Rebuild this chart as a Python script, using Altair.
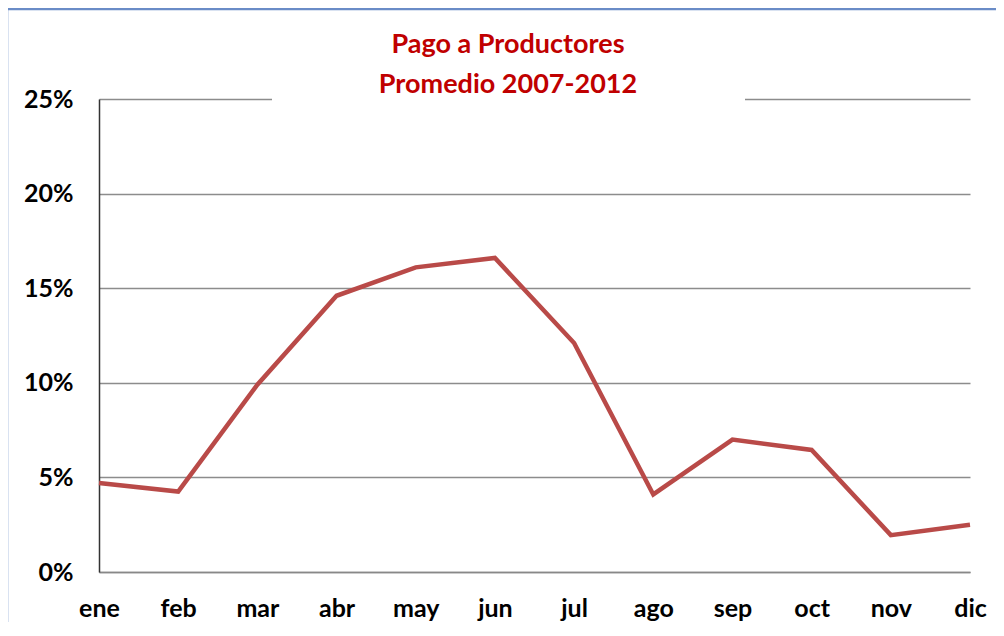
import altair as alt
import pandas as pd

months = ["ene", "feb", "mar", "abr", "may", "jun", "jul", "ago", "sep", "oct", "nov", "dic"]
values = [0.047, 0.0425, 0.099, 0.146, 0.161, 0.166, 0.121, 0.041, 0.070, 0.0645, 0.0195, 0.025]
y_ticks = [0, 0.05, 0.10, 0.15, 0.20, 0.25]
title_lines = ["Pago a Productores", "Promedio 2007-2012"]

df = pd.DataFrame({"mes": months, "valor": values})

W, H = 871, 473
FONT = "Lato"

line = alt.Chart(df).mark_line(color="#b94a48", strokeWidth=4.5, strokeJoin="miter").encode(
    x=alt.X("mes:N", sort=months,
            scale=alt.Scale(type="point", padding=0),
            axis=alt.Axis(title=None, labelAngle=0, labelFont=FONT, labelFontSize=25,
                          labelFontWeight="bold", labelColor="#000000", labelPadding=24,
                          ticks=False, domain=True, domainColor="#888888", domainWidth=1.5,
                          grid=False, labelBaseline="top")),
    y=alt.Y("valor:Q", scale=alt.Scale(domain=[0, 0.25], nice=False),
            axis=alt.Axis(title=None, values=y_ticks, format=".0%", labelFont=FONT,
                          labelFontSize=25, labelFontWeight="bold", labelColor="#000000",
                          labelPadding=26, ticks=False, domain=True, domainColor="#333333",
                          domainWidth=1.5, grid=True, gridColor="#8c8c8c", gridWidth=1.3)),
)

frame = alt.Chart(pd.DataFrame({"k": [0]})).mark_rect(
    fill=None, stroke="#6a8cc7", strokeWidth=2.5, clip=False
).encode(x=alt.value(-92), x2=alt.value(W + 60), y=alt.value(-90), y2=alt.value(H + 80))

title_bg = alt.Chart(pd.DataFrame({"k": [0]})).mark_rect(
    fill="white", clip=False
).encode(x=alt.value(173), x2=alt.value(646), y=alt.value(-70), y2=alt.value(6))

tdf = pd.DataFrame({"t": title_lines, "row": [0, 1]})
title = alt.Chart(tdf).mark_text(
    font=FONT, fontSize=27, fontWeight="bold", color="#c00000", align="center",
    baseline="middle", clip=False
).encode(
    text="t:N",
    x=alt.value(409),
    y=alt.Y("row:O", scale=alt.Scale(type="point", padding=0, range=[-54, -14]), axis=None),
)

chart = alt.layer(frame, title_bg, line, title).resolve_scale(y="independent").properties(
    width=W, height=H,
    autosize=alt.AutoSizeParams(type="none"),
    padding={"left": 91, "top": 91, "right": 26, "bottom": 50},
    background="white",
).configure_view(stroke=None)

chart.save("out.html", embed_options={"renderer": "svg", "actions": False})
